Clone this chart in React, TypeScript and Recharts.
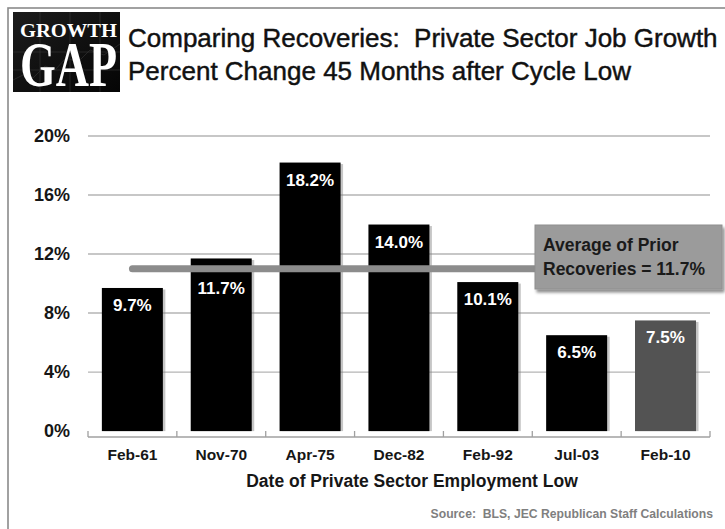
import React from 'react';
import { BarChart, Bar, XAxis, YAxis, CartesianGrid, ReferenceLine, LabelList, Cell, Label } from 'recharts';

// ---- data ----
const categories = ['Feb-61', 'Nov-70', 'Apr-75', 'Dec-82', 'Feb-92', 'Jul-03', 'Feb-10'];
const growthPct = [9.7, 11.7, 18.2, 14.0, 10.1, 6.5, 7.5];
const barColors = ['#000000', '#000000', '#000000', '#000000', '#000000', '#000000', '#535353'];
const yTicks = [0, 4, 8, 12, 16, 20];
const gridValues = [4, 8, 12, 16, 20];
const avgLineLevel = 11.0;
const avgSegmentFrom = 'Feb-61';
const avgSegmentTo = 'Jul-03';
const avgLabelLines = ['Average of Prior', 'Recoveries = 11.7%'];
const titleLines = ['Comparing Recoveries:  Private Sector Job Growth', 'Percent Change 45 Months after Cycle Low'];
const xAxisTitle = 'Date of Private Sector Employment Low';
const sourceText = 'Source:  BLS, JEC Republican Staff Calculations';
const logoWords = ['GROWTH', 'GAP'];

const data = categories.map((c, i) => ({ category: c, value: growthPct[i] }));

// ---- layout ----
const W = 725;
const H = 529;
const PLOT_LEFT = 88;
const PLOT_RIGHT = 710;
const PLOT_TOP = 136;
const AXIS_Y = 437;
const BAND = (PLOT_RIGHT - PLOT_LEFT) / categories.length;
const FONT = "'Liberation Sans', Arial, Helvetica, sans-serif";
const SERIF = "'Liberation Serif', 'Times New Roman', serif";

const ShadowBar = (props: any) => {
  const { x, y, width, height, fill } = props;
  if (!(height > 0)) return null;
  return (
    <g>
      <rect x={x + 2.5} y={y + 1.5} width={width} height={height - 1.5} fill="#808080" opacity={0.45} />
      <rect x={x} y={y} width={width} height={height} fill={fill} />
    </g>
  );
};

const XTick = (props: any) => {
  const { x, y, payload, index } = props;
  const half = BAND / 2;
  return (
    <g>
      <line x1={x - half} x2={x - half} y1={y - 6} y2={y} stroke="#a0a0a0" strokeWidth={1.3} />
      {index === categories.length - 1 && (
        <line x1={x + half} x2={x + half} y1={y - 6} y2={y} stroke="#a0a0a0" strokeWidth={1.3} />
      )}
      <text x={x} y={y + 23} textAnchor="middle" fontFamily={FONT} fontWeight="bold" fontSize={15.5} fill="#161616">
        {payload.value}
      </text>
    </g>
  );
};

const BarValueLabel = (props: any) => {
  const { x, y, width, value } = props;
  const v = Number(value);
  const nearAvg = v > avgLineLevel && v - avgLineLevel < 1.2;
  return (
    <text
      x={x + width / 2}
      y={y + (nearAvg ? 36 : 23)}
      textAnchor="middle"
      fontFamily={FONT}
      fontWeight="bold"
      fontSize={17}
      fill="#ffffff"
    >
      {v.toFixed(1)}%
    </text>
  );
};

const AxisTitle = (props: any) => {
  const vb = props.viewBox || { x: PLOT_LEFT, y: AXIS_Y, width: PLOT_RIGHT - PLOT_LEFT };
  return (
    <text
      x={vb.x + vb.width / 2 + 13}
      y={vb.y + 50}
      textAnchor="middle"
      fontFamily={FONT}
      fontWeight="bold"
      fontSize={17.5}
      fill="#161616"
    >
      {xAxisTitle}
    </text>
  );
};

export default function App() {
  return (
    <div
      style={{
        position: 'absolute',
        left: 0,
        top: 0,
        width: W,
        height: H,
        overflow: 'hidden',
        background: '#ffffff',
      }}
    >
      <div style={{ position: 'absolute', left: 0, top: 0 }}>
        <BarChart
          width={W}
          height={H}
          data={data}
          margin={{ top: PLOT_TOP, right: W - PLOT_RIGHT, bottom: H - AXIS_Y - 40, left: 28 }}
          barCategoryGap="15.6%"
        >
          <CartesianGrid vertical={false} horizontalValues={gridValues} stroke="#b5b5b5" strokeWidth={1.4} />
          <XAxis
            dataKey="category"
            height={40}
            axisLine={{ stroke: '#a0a0a0', strokeWidth: 1.3 }}
            tickLine={false}
            tickSize={0}
            tickMargin={0}
            tick={<XTick />}
            interval={0}
          >
            <Label content={<AxisTitle />} />
          </XAxis>
          <YAxis
            width={60}
            domain={[-0.4, 20]}
            ticks={yTicks}
            allowDataOverflow
            axisLine={false}
            tickLine={false}
            tickSize={0}
            tickMargin={18}
            tickFormatter={(v: number) => `${v}%`}
            tick={{ fontFamily: FONT, fontWeight: 'bold', fontSize: 18, fill: '#161616' }}
          />
          <Bar dataKey="value" isAnimationActive={false} shape={<ShadowBar />}>
            {data.map((d, i) => (
              <Cell key={d.category} fill={barColors[i]} />
            ))}
            <LabelList dataKey="value" content={<BarValueLabel />} />
          </Bar>
          <ReferenceLine
            segment={[
              { x: avgSegmentFrom, y: avgLineLevel },
              { x: avgSegmentTo, y: avgLineLevel },
            ]}
            stroke="#8c8c8c"
            strokeWidth={7}
            strokeLinecap="round"
          />
        </BarChart>
      </div>
      <svg
        width={W}
        height={H}
        style={{ position: 'absolute', left: 0, top: 0, pointerEvents: 'none' }}
      >
        <defs>
          <filter id="boxShadow" x="-10%" y="-20%" width="130%" height="150%">
            <feDropShadow dx="2" dy="3" stdDeviation="1.5" floodColor="#000" floodOpacity="0.45" />
          </filter>
          <linearGradient id="logoBg" x1="0" y1="0" x2="1" y2="1">
            <stop offset="0" stopColor="#1c1c1c" />
            <stop offset="1" stopColor="#050505" />
          </linearGradient>
        </defs>
        {/* outer frame */}
        <rect x={8} y={8} width={800} height={600} fill="none" stroke="#8a8a8a" strokeWidth={1.6} />
        {/* logo */}
        <rect x={13} y={12} width={107} height={80} fill="url(#logoBg)" />
        <g stroke="#3a3a3a" strokeWidth={0.7} opacity={0.8}>
          <line x1={13} x2={120} y1={52} y2={52} />
          <line x1={13} x2={120} y1={70} y2={70} />
          <line x1={40} x2={40} y1={12} y2={92} />
          <line x1={70} x2={70} y1={12} y2={92} />
          <line x1={100} x2={100} y1={12} y2={92} />
          <polyline fill="none" points="13,80 25,74 33,78 45,66 55,70 66,58 78,62 90,50 104,55 120,44" />
        </g>
        <text x={20} y={37} fontFamily={SERIF} fontWeight="bold" fontSize={18} fill="#ffffff" textLength={97} lengthAdjust="spacingAndGlyphs" transform="translate(0,-3.7) scale(1,1.1)">
          {logoWords[0]}
        </text>
        <g transform="translate(20,86) scale(1,1.45)">
          <text x={0} y={0} fontFamily={SERIF} fontWeight="bold" fontSize={43} fill="#ffffff" textLength={97} lengthAdjust="spacingAndGlyphs">
            {logoWords[1]}
          </text>
        </g>
        {/* title */}
        <text x={128} y={47} fontFamily={FONT} fontSize={26} fill="#111111" stroke="#111111" strokeWidth={0.45} style={{ whiteSpace: 'pre' }}>
          {titleLines[0]}
        </text>
        <text x={128} y={80} fontFamily={FONT} fontSize={26} fill="#111111" stroke="#111111" strokeWidth={0.45} style={{ whiteSpace: 'pre' }}>
          {titleLines[1]}
        </text>
        {/* average annotation box */}
        <rect x={535} y={225} width={187} height={64} fill="#9b9b9b" stroke="#8f8f8f" filter="url(#boxShadow)" />
        <text x={543} y={251} fontFamily={FONT} fontWeight="bold" fontSize={17.5} fill="#1a1a1a">
          {avgLabelLines[0]}
        </text>
        <text x={543} y={275} fontFamily={FONT} fontWeight="bold" fontSize={17.5} fill="#1a1a1a">
          {avgLabelLines[1]}
        </text>
        {/* source */}
        <text x={713} y={518} textAnchor="end" fontFamily={FONT} fontWeight="bold" fontSize={12.2} fill="#7f7f7f" style={{ whiteSpace: 'pre' }}>
          {sourceText}
        </text>
      </svg>
    </div>
  );
}
